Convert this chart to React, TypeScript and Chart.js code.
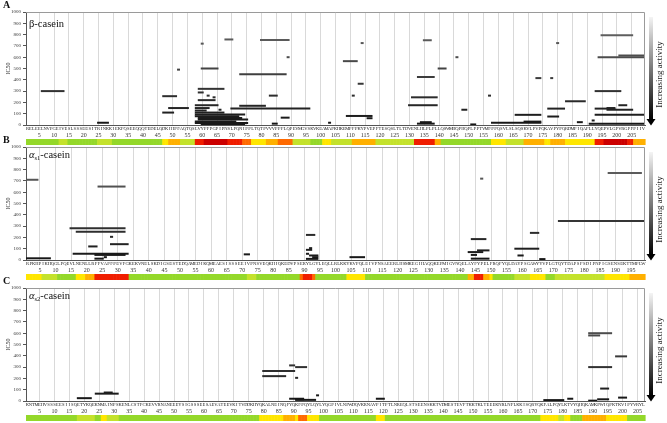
import React, { useEffect, useRef } from 'react';
import { Chart, registerables } from 'chart.js';
Chart.register(...registerables);

// ---------- sequences (tick labels) ----------
const seqBeta = "RELEELNVPGEIVESLSSSEESITRINKKIEKFQSEEQQQTEDELQDKIHPFAQTQSLVYPFPGPIPNSLPQNIPPLTQTPVVVPPFLQPEVMGVSKVKEAMAPKHKEMPFPKYPVEPFTESQSLTLTDVENLHLPLPLLQSWMHQPHQPLPPTVMFPPQSVLSLSQSKVLPVPQKAVPYPQRDMPIQAFLLYQEPVLGPVRGPFPIIV";
const seqAs1 = "RPKHPIKHQGLPQEVLNENLLRFFVAPFPEVFGKEKVNELSKDIGSESTEDQAMEDIKQMEAESISSSEEIVPNSVEQKHIQKEDVPSERYLGYLEQLLRLKKYKVPQLEIVPNSAEERLHSMKEGIHAQQKEPMIGVNQELAYFYPELFRQFYQLDAYPSGAWYYVPLGTQYTDAPSFSDIPNPIGSENSEKTTMPLW";
const seqAs2 = "KNTMEHVSSSEESIISQETYKQEKNMAINPSKENLCSTFCKEVVRNANEEEYSIGSSSEESAEVATEEVKITVDDKHYQKALNEINQFYQKFPQYLQYLYQGPIVLNPWDQVKRNAVPITPTLNREQLSTSEENSKKTVDMESTEVFTKKTKLTEEEKNRLNFLKKISQRYQKFALPQYLKTVYQHQKAMKPWIQPKTKVIPYVRYL";

// ---------- peptides: [start residue, end residue, IC50] ----------
const peptidesBeta: number[][] = [
  [6, 13, 300], [25, 28, 20], [47, 51, 255], [47, 50, 110], [49, 55, 150], [52, 52, 490],
  [60, 60, 720], [60, 65, 500], [59, 67, 320], [59, 60, 288], [62, 62, 260], [64, 64, 245],
  [59, 64, 220], [58, 65, 175], [66, 66, 135], [58, 62, 150], [58, 61, 128], [58, 67, 110],
  [58, 74, 92], [58, 72, 78], [59, 73, 62], [59, 75, 48], [58, 71, 32], [58, 75, 18], [60, 74, 6],
  [68, 70, 757], [80, 89, 752], [114, 114, 725], [135, 137, 750], [89, 89, 600], [108, 112, 565],
  [140, 142, 500], [73, 88, 450], [133, 138, 425], [113, 114, 365], [83, 85, 260], [111, 111, 260],
  [131, 139, 245], [130, 139, 175], [73, 81, 170], [70, 96, 145], [109, 117, 80], [116, 117, 60],
  [87, 89, 65], [84, 85, 12], [103, 103, 20], [134, 137, 25], [133, 138, 12],
  [195, 205, 795], [180, 180, 725], [201, 209, 615], [194, 209, 600], [146, 146, 600], [173, 174, 415],
  [178, 178, 415], [193, 201, 300], [157, 157, 260], [183, 189, 210], [201, 203, 175], [177, 182, 145],
  [193, 199, 145], [197, 205, 135], [197, 199, 150], [148, 149, 135], [166, 174, 90], [193, 209, 90],
  [177, 180, 75], [192, 192, 40], [187, 188, 25], [169, 174, 30], [158, 174, 20], [191, 209, 10], [151, 152, 5],
];
const peptidesAs1: number[][] = [
  [1, 4, 710], [24, 32, 650], [15, 32, 280], [17, 32, 250], [28, 28, 205], [28, 33, 140],
  [21, 23, 120], [16, 33, 55], [23, 32, 45], [26, 26, 25], [23, 25, 12], [1, 8, 15],
  [91, 93, 222], [92, 92, 105], [91, 92, 90], [71, 72, 50], [91, 91, 55], [92, 94, 40],
  [93, 94, 25], [91, 94, 10], [105, 109, 25],
  [188, 198, 770], [147, 147, 720], [172, 199, 345], [163, 165, 240], [144, 148, 185], [158, 165, 100],
  [146, 149, 85], [143, 147, 70], [144, 145, 45], [159, 160, 40], [144, 149, 12], [166, 167, 8],
];
const peptidesAs2: number[][] = [
  [18, 22, 25], [24, 31, 65], [27, 29, 75], [89, 90, 315], [91, 94, 300], [80, 90, 265],
  [80, 87, 220], [91, 91, 205], [98, 98, 50], [89, 93, 20], [91, 93, 15], [91, 97, 10],
  [189, 196, 600], [189, 192, 580], [198, 201, 395], [189, 196, 300], [193, 195, 110], [199, 201, 30],
  [118, 120, 20], [192, 195, 15], [182, 183, 20], [174, 180, 8], [189, 191, 3],
];

// ---------- heat bar runs: [start, end, level] ----------
const heatBeta: number[][] = [
  [1, 11, 0], [12, 14, 1], [15, 24, 0], [25, 29, 1], [30, 46, 0], [47, 48, 2], [49, 52, 3], [53, 57, 1],
  [58, 60, 5], [61, 68, 6], [69, 73, 5], [74, 76, 4], [77, 81, 2], [82, 85, 3], [86, 90, 4], [91, 96, 1],
  [97, 100, 0], [101, 103, 2], [104, 110, 1], [111, 118, 3], [119, 131, 1], [132, 138, 5], [139, 140, 3],
  [141, 157, 0], [158, 162, 2], [163, 168, 1], [169, 175, 3], [176, 177, 2], [178, 182, 3], [183, 192, 2],
  [193, 195, 5], [196, 203, 6], [204, 205, 5], [206, 209, 3],
];
const heatAs1: number[][] = [
  [1, 5, 2], [6, 10, 1], [11, 16, 0], [17, 19, 2], [20, 22, 3], [23, 33, 5], [34, 71, 0], [72, 74, 1],
  [75, 88, 0], [89, 89, 4], [90, 92, 5], [93, 93, 4], [94, 103, 0], [104, 109, 2], [110, 142, 0],
  [143, 144, 3], [145, 147, 5], [148, 149, 3], [150, 150, 2], [151, 157, 0], [158, 162, 1], [163, 167, 2],
  [168, 170, 0], [171, 186, 1], [187, 194, 2], [195, 199, 3],
];
const heatAs2: number[][] = [
  [1, 17, 0], [18, 23, 1], [24, 25, 0], [26, 27, 2], [28, 31, 1], [32, 78, 0], [79, 86, 2], [87, 90, 3],
  [91, 91, 2], [92, 94, 4], [95, 98, 2], [99, 117, 0], [118, 120, 2], [121, 172, 0], [173, 178, 2],
  [179, 180, 1], [181, 182, 2], [183, 186, 0], [187, 194, 3], [195, 201, 2], [202, 207, 0],
];

const heatColors = ['#94d82a', '#c4e22c', '#ffe600', '#ffb000', '#ff6a00', '#f01e00', '#cc0000'];

function expandRuns(runs: number[][], n: number) {
  const out: number[] = new Array(n).fill(0);
  for (const [s, e, l] of runs) for (let i = s; i <= e; i++) if (i >= 1 && i <= n) out[i - 1] = l;
  return out;
}
function shade(v: number) {
  const g = Math.round(22 + (Math.min(1000, Math.max(0, v)) / 1000) * 90);
  return `rgb(${g},${g},${g})`;
}

type PanelCfg = {
  letter: string; seq: string; peptides: number[][]; heat: number[][];
  top: number; titleDy: number; letterY: number; kind: 'beta' | 'as1' | 'as2';
};

const panels: PanelCfg[] = [
  { letter: 'A', seq: seqBeta, peptides: peptidesBeta, heat: heatBeta, top: 0, titleDy: 15, letterY: 8, kind: 'beta' },
  { letter: 'B', seq: seqAs1, peptides: peptidesAs1, heat: heatAs1, top: 135, titleDy: 11, letterY: 7.5, kind: 'as1' },
  { letter: 'C', seq: seqAs2, peptides: peptidesAs2, heat: heatAs2, top: 276, titleDy: 11, letterY: 8, kind: 'as2' },
];

const FONT = 'Liberation Serif';
const W = 667;
const H = 146;

function Panel({ cfg }: { cfg: PanelCfg }) {
  const ref = useRef<HTMLCanvasElement>(null);
  useEffect(() => {
    const N = cfg.seq.length;
    const data: any[] = [];
    for (const [s, e, v] of cfg.peptides) {
      data.push({ x: s - 0.5, y: v }, { x: e + 0.5, y: v }, { x: e + 0.5, y: null });
    }
    const levels = expandRuns(cfg.heat, N);
    const fives: number[] = [];
    for (let v = 5; v <= N; v += 5) fives.push(v);

    const decor = {
      id: 'decor',
      afterDraw(chart: any) {
        const { ctx, chartArea: a } = chart;
        const xs = chart.scales.x;
        ctx.save();
        // frame top/right
        ctx.strokeStyle = '#9a9a9a';
        ctx.lineWidth = 1;
        ctx.beginPath();
        ctx.moveTo(a.left, a.top + 0.5);
        ctx.lineTo(a.right - 0.5, a.top + 0.5);
        ctx.lineTo(a.right - 0.5, a.bottom);
        ctx.stroke();
        // heat bar
        for (let i = 1; i <= N; i++) {
          const x0 = xs.getPixelForValue(i - 0.5);
          const x1 = xs.getPixelForValue(i + 0.5);
          ctx.fillStyle = heatColors[levels[i - 1]];
          ctx.fillRect(x0, a.bottom + 14, x1 - x0 + 0.6, 6);
        }
        // increasing activity arrow
        const cx = a.right + 6;
        const t = a.top + 5;
        const b = a.bottom - 5;
        const g = ctx.createLinearGradient(0, t, 0, b);
        g.addColorStop(0, '#f4f4f4');
        g.addColorStop(1, '#000000');
        ctx.fillStyle = g;
        ctx.fillRect(cx - 2, t, 4, b - t);
        ctx.fillStyle = '#000';
        ctx.beginPath();
        ctx.moveTo(cx - 4.5, b - 1);
        ctx.lineTo(cx + 4.5, b - 1);
        ctx.lineTo(cx, a.bottom + 0.5);
        ctx.closePath();
        ctx.fill();
        ctx.save();
        ctx.translate(a.right + 15, (a.top + a.bottom) / 2 + 6);
        ctx.rotate(-Math.PI / 2);
        ctx.font = `9px "${FONT}"`;
        ctx.fillStyle = '#222';
        ctx.textAlign = 'center';
        ctx.textBaseline = 'middle';
        ctx.fillText('Increasing activity', 0, 0);
        ctx.restore();
        // panel letter
        ctx.font = `bold 10px "${FONT}"`;
        ctx.fillStyle = '#111';
        ctx.textAlign = 'left';
        ctx.textBaseline = 'alphabetic';
        ctx.fillText(cfg.letter, 3, cfg.letterY);
        // panel title
        const tx = a.left + 3;
        const ty = a.top + cfg.titleDy;
        ctx.fillStyle = '#111';
        if (cfg.kind === 'beta') {
          ctx.font = `10.5px "${FONT}"`;
          ctx.fillText('\u03b2-casein', tx, ty);
        } else {
          ctx.font = `italic 10.5px "${FONT}"`;
          ctx.fillText('\u03b1', tx, ty);
          let x = tx + ctx.measureText('\u03b1').width;
          ctx.font = `6.5px "${FONT}"`;
          const sub = cfg.kind === 'as1' ? 's1' : 's2';
          ctx.fillText(sub, x, ty + 2);
          x += ctx.measureText(sub).width;
          ctx.font = `10.5px "${FONT}"`;
          ctx.fillText('-casein', x, ty);
        }
        ctx.restore();
      },
    };

    const chart = new Chart(ref.current as HTMLCanvasElement, {
      type: 'line',
      data: {
        datasets: [
          {
            data,
            borderWidth: 2,
            pointRadius: 0,
            borderColor: '#222',
            spanGaps: false,
            borderCapStyle: 'butt',
            tension: 0,
            segment: { borderColor: (c: any) => shade(c.p0.parsed.y) },
          } as any,
        ],
      },
      options: {
        responsive: false,
        animation: false,
        events: [],
        layout: { padding: { top: 12, left: 0, right: 22, bottom: 8 } },
        plugins: { legend: { display: false }, tooltip: { enabled: false } },
        scales: {
          x: {
            type: 'linear',
            position: 'bottom',
            weight: 0,
            min: 0.5,
            max: N + 0.5,
            afterBuildTicks: (s: any) => {
              s.ticks = cfg.seq.split('').map((_, i) => ({ value: i + 1 }));
            },
            afterFit: (s: any) => { s.height = 6; },
            ticks: {
              autoSkip: false, maxRotation: 0, minRotation: 0, padding: 1,
              font: { size: 4.6, family: FONT }, color: '#222',
              callback: (v: any) => cfg.seq[Math.round(v) - 1] || '',
            },
            grid: {
              color: (c: any) => (c.tick && Math.round(c.tick.value) % 5 === 0 ? '#d9d9d9' : 'rgba(0,0,0,0)'),
              drawTicks: false,
              lineWidth: 1,
            },
            border: { color: '#555' },
          },
          x2: {
            type: 'linear',
            position: 'bottom',
            weight: 1,
            min: 0.5,
            max: N + 0.5,
            afterBuildTicks: (s: any) => { s.ticks = fives.map((v) => ({ value: v })); },
            afterFit: (s: any) => { s.height = 7; },
            ticks: {
              autoSkip: false, maxRotation: 0, minRotation: 0, padding: 1,
              font: { size: 6, family: FONT }, color: '#333',
              callback: (v: any) => String(Math.round(v)),
            },
            grid: { display: false, drawTicks: false, tickLength: 0 },
            border: { display: false },
          },
          y: {
            min: 0,
            max: 1000,
            afterFit: (s: any) => { s.width = 26; },
            ticks: {
              stepSize: 100, font: { size: 5, family: FONT }, color: '#333', padding: 2,
              callback: (v: any) => String(v),
            },
            grid: { drawOnChartArea: false, tickLength: 3, color: '#555' },
            border: { color: '#555' },
            title: { display: true, text: 'IC50', font: { size: 6, family: FONT }, color: '#333', padding: { top: 5, bottom: 0 } },
          },
        },
      } as any,
      plugins: [decor],
    });
    return () => chart.destroy();
  }, [cfg]);
  return (
    <canvas
      ref={ref}
      width={W}
      height={H}
      style={{ position: 'absolute', left: 0, top: cfg.top, width: W, height: H, display: 'block' }}
    />
  );
}

export default function App() {
  return (
    <div style={{ position: 'absolute', left: 0, top: 0, width: W, height: 423, background: '#fff', overflow: 'hidden' }}>
      {panels.map((p) => (
        <Panel key={p.letter} cfg={p} />
      ))}
    </div>
  );
}
